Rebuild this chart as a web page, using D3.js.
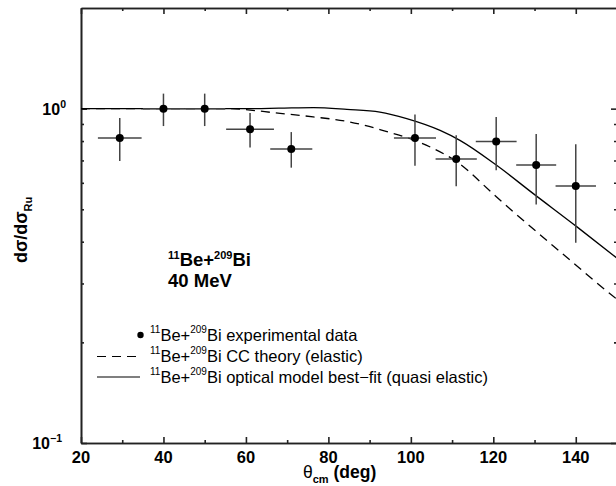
<!DOCTYPE html>
<html lang="en">
<head>
<meta charset="utf-8">
<style>
  body { margin: 0; background: #fff; }
  svg { display: block; font-family: "Liberation Sans", Arial, Helvetica, sans-serif; }
</style>
</head>
<body>
<script src="https://d3js.org/d3.v7.min.js"></script>
<script>
  // 11Be + 209Bi, 40 MeV : quasi-elastic / Rutherford
  const expTheta = [29.4, 40, 50, 61, 71, 101, 111, 120.7, 130.4, 140];
  const expThetaErr = [5.3, 5, 5, 5.8, 5.1, 5.1, 5, 4.95, 4.85, 4.9];
  const expRatio = [0.817, 1.0, 1.0, 0.867, 0.757, 0.817, 0.707, 0.798, 0.678, 0.587];
  const expLow = [0.697, 0.887, 0.887, 0.765, 0.666, 0.675, 0.586, 0.654, 0.517, 0.397];
  const expHigh = [0.937, 1.109, 1.109, 0.970, 0.851, 0.960, 0.832, 0.944, 0.840, 0.782];

  // CC theory (elastic)
  const ccTheta = [20, 40, 55.2, 68.3, 76.3, 84.5, 92.5, 104.7, 110.9, 120.8, 124.9, 139.6, 144.3, 150];
  const ccRatio = [1.0, 1.0, 1.0, 0.968, 0.945, 0.916, 0.866, 0.768, 0.697, 0.544, 0.491, 0.344, 0.307, 0.269];

  // optical model best fit (quasi elastic)
  const omTheta = [20, 40, 60, 68, 76.4, 84.5, 92.5, 99, 107.1, 111.9, 120.8, 129.7, 140.3, 150];
  const omRatio = [1.0, 1.0, 1.0, 1.003, 1.007, 0.995, 0.977, 0.934, 0.861, 0.804, 0.677, 0.557, 0.443, 0.357];

  const xMajor = [20, 40, 60, 80, 100, 120, 140];
  const xMinor = [30, 50, 70, 90, 110, 130];
  const yMajor = [0.1, 1];
  const yMinor = [0.2, 0.3, 0.4, 0.5, 0.6, 0.7, 0.8, 0.9];
  const yLabels = [["10", "\u22121"], ["10", "0"]];

  const width = 616, height = 486;
  const plotL = 81, plotR = 617, plotT = 8, plotB = 443;

  var x = d3.scaleLinear().domain([20, 150]).range([plotL, plotR]);
  var y = d3.scaleLog().domain([0.1, 2]).range([plotB, plotT]);

  var svg = d3.select("body").append("svg")
    .attr("width", width)
    .attr("height", height);

  svg.append("clipPath").attr("id", "plot")
    .append("rect").attr("x", plotL).attr("y", plotT)
    .attr("width", plotR - plotL).attr("height", plotB - plotT);

  // frame + ticks (all pointing inwards)
  function styleAxis(g) {
    g.selectAll("path, line").attr("stroke", "#222").attr("stroke-width", 1.6);
    g.selectAll("text").remove();
  }
  function addAxis(axisFn, scale, major, minor, transform) {
    svg.append("g").attr("transform", transform)
      .call(axisFn(scale).tickValues(major).tickSize(-6).tickSizeOuter(0))
      .call(styleAxis);
    svg.append("g").attr("transform", transform)
      .call(axisFn(scale).tickValues(minor).tickSize(-3).tickSizeOuter(0))
      .call(styleAxis);
  }
  addAxis(d3.axisBottom, x, xMajor, xMinor, "translate(0," + plotB + ")");
  addAxis(d3.axisTop, x, xMajor, xMinor, "translate(0," + plotT + ")");
  addAxis(d3.axisLeft, y, yMajor, yMinor, "translate(" + plotL + ",0)");
  addAxis(d3.axisRight, y, yMajor, yMinor, "translate(" + plotR + ",0)");

  // x tick labels
  svg.append("g").selectAll("text")
    .data(xMajor)
    .enter()
    .append("text")
    .attr("x", function (d) { return x(d); })
    .attr("y", plotB + 19.5)
    .attr("text-anchor", "middle")
    .attr("font-size", 16.5)
    .attr("font-weight", "bold")
    .text(function (d) { return d; });

  // y tick labels 10^n
  var yl = svg.append("g").selectAll("text")
    .data(yMajor)
    .enter()
    .append("text")
    .attr("x", function (d) { return d < 1 ? 62 : 66; })
    .attr("y", function (d) { return y(d) + 6; })
    .attr("text-anchor", "end")
    .attr("font-weight", "bold");
  yl.append("tspan").attr("font-size", 16).text(function (d, i) { return yLabels[i][0]; });
  yl.append("tspan").attr("font-size", 10.5).attr("dy", -7).text(function (d, i) { return yLabels[i][1]; });

  // axis titles
  var xt = svg.append("text")
    .attr("x", 303)
    .attr("y", 478)
    .attr("font-weight", "bold")
    .attr("font-size", 17.5);
  xt.append("tspan").attr("font-weight", "normal").text("\u03b8");
  xt.append("tspan").attr("font-size", 11).attr("dy", 5).text("cm");
  xt.append("tspan").attr("dy", -5).text(" (deg)");

  var yt = svg.append("text")
    .attr("transform", "translate(27,263) rotate(-90)")
    .attr("font-weight", "bold")
    .attr("font-size", 18);
  yt.append("tspan").text("d\u03c3/d\u03c3");
  yt.append("tspan").attr("font-size", 11).attr("dy", 5).text("Ru");

  // theory curves
  var line = d3.line()
    .x(function (d) { return x(d[0]); })
    .y(function (d) { return y(d[1]); })
    .curve(d3.curveMonotoneX);

  var curves = svg.append("g").attr("clip-path", "url(#plot)");
  curves.append("path")
    .attr("d", line(ccTheta.map(function (t, i) { return [t, ccRatio[i]]; })))
    .attr("fill", "none")
    .attr("stroke", "#000")
    .attr("stroke-width", 1.3)
    .attr("stroke-dasharray", "9,6");
  curves.append("path")
    .attr("d", line(omTheta.map(function (t, i) { return [t, omRatio[i]]; })))
    .attr("fill", "none")
    .attr("stroke", "#000")
    .attr("stroke-width", 1.3);

  // data points with error bars
  var pts = svg.append("g").selectAll("g")
    .data(expTheta)
    .enter()
    .append("g");

  pts.append("line")
    .attr("x1", function (d, i) { return x(d - expThetaErr[i]); })
    .attr("x2", function (d, i) { return x(d + expThetaErr[i]); })
    .attr("y1", function (d, i) { return y(expRatio[i]); })
    .attr("y2", function (d, i) { return y(expRatio[i]); })
    .attr("stroke", "#444")
    .attr("stroke-width", 1.5);
  pts.append("line")
    .attr("x1", function (d) { return x(d); })
    .attr("x2", function (d) { return x(d); })
    .attr("y1", function (d, i) { return y(expLow[i]); })
    .attr("y2", function (d, i) { return y(expHigh[i]); })
    .attr("stroke", "#444")
    .attr("stroke-width", 1.5);
  pts.append("circle")
    .attr("cx", function (d) { return x(d); })
    .attr("cy", function (d, i) { return y(expRatio[i]); })
    .attr("r", 4)
    .attr("fill", "#000");

  // reaction label
  var lab = svg.append("text")
    .attr("x", 168).attr("y", 266)
    .attr("font-weight", "bold");
  lab.append("tspan").attr("font-size", 11).attr("dy", -7).text("11");
  lab.append("tspan").attr("font-size", 18.5).attr("dy", 7).text("Be+");
  lab.append("tspan").attr("font-size", 11).attr("dy", -7).text("209");
  lab.append("tspan").attr("font-size", 18.5).attr("dy", 7).text("Bi");
  svg.append("text")
    .attr("x", 168).attr("y", 287)
    .attr("font-weight", "bold")
    .attr("font-size", 18.5)
    .text("40 MeV");

  // legend
  const legendText = ["Bi experimental data", "Bi CC theory (elastic)", "Bi optical model best\u2212fit (quasi elastic)"];
  var leg = svg.append("g");
  leg.append("circle").attr("cx", 140.5).attr("cy", 335).attr("r", 3.2).attr("fill", "#000");
  leg.append("line").attr("x1", 97).attr("x2", 140).attr("y1", 356.5).attr("y2", 356.5)
    .attr("stroke", "#000").attr("stroke-width", 1.2).attr("stroke-dasharray", "9,6");
  leg.append("line").attr("x1", 97).attr("x2", 140).attr("y1", 377).attr("y2", 377)
    .attr("stroke", "#000").attr("stroke-width", 1.2);

  var lt = leg.selectAll("text")
    .data(legendText)
    .enter()
    .append("text")
    .attr("x", 150)
    .attr("y", function (d, i) { return 340.5 + i * 21; });
  lt.append("tspan").attr("font-size", 10).attr("dy", -8).text("11");
  lt.append("tspan").attr("font-size", 16.5).attr("dy", 8).text("Be+");
  lt.append("tspan").attr("font-size", 10).attr("dy", -8).text("209");
  lt.append("tspan").attr("font-size", 16.5).attr("dy", 8).text(function (d) { return d; });
</script>
</body>
</html>
